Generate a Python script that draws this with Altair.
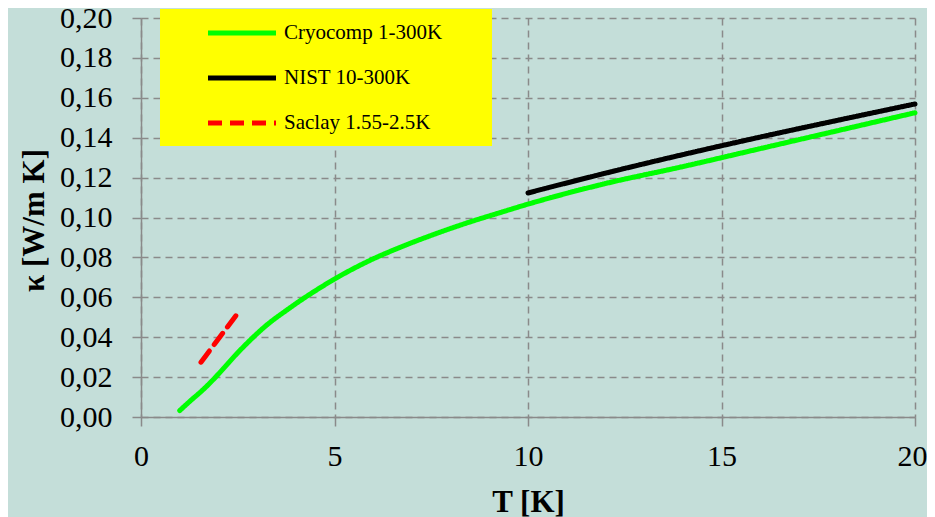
import altair as alt
import pandas as pd

# ---- data ----
cryo_T = [1.0, 1.27, 1.61, 1.87, 2.13, 2.47, 2.82, 3.25, 3.76, 4.19, 4.58, 4.97, 5.83,
          6.69, 7.55, 8.41, 9.27, 10.0, 12.0, 14.0, 16.0, 18.0, 20.0]
cryo_k = [0.0032, 0.008, 0.0138, 0.0188, 0.0243, 0.0316, 0.0385, 0.0461, 0.0535, 0.0593,
          0.0642, 0.0688, 0.0777, 0.085, 0.0914, 0.0972, 0.1024, 0.1067, 0.117, 0.1255,
          0.1345, 0.1435, 0.1525]

nist_T = [10.0, 12.0, 14.0, 16.0, 18.0, 20.0]
nist_k = [0.1123, 0.1222, 0.1315, 0.1403, 0.1487, 0.1569]

saclay_T = [1.55, 2.5]
saclay_k = [0.0275, 0.052]

series_names = ["Cryocomp 1-300K", "NIST 10-300K", "Saclay 1.55-2.5K"]
series_colors = ["#00FF00", "#000000", "#FF0000"]
series_dash = [[1, 0], [1, 0], [14, 8]]

x_ticks = [0, 5, 10, 15, 20]
y_ticks = [0.0, 0.02, 0.04, 0.06, 0.08, 0.10, 0.12, 0.14, 0.16, 0.18, 0.20]

rows = []
for name, ts, ks in zip(series_names, [cryo_T, nist_T, saclay_T], [cryo_k, nist_k, saclay_k]):
    for i, (t, k) in enumerate(zip(ts, ks)):
        rows.append({"series": name, "T": t, "k": k, "order": i})
df = pd.DataFrame(rows)

W, H = 774, 399
BG = "#C4DED9"
GRID = "#8A8A8A"
SERIF = "Liberation Serif"

legend = alt.Legend(
    title=None,
    orient="none",
    legendX=19,
    legendY=-9,
    fillColor="#FFFF00",
    padding=13,
    symbolType="M-4,0H4",
    symbolSize=289,
    symbolStrokeWidth=5,
    symbolOffset=58,
    labelFont=SERIF,
    labelFontSize=21,
    labelColor="black",
    labelOffset=31,
    labelLimit=400,
    labelExpr="datum.label + '\u00a0\u00a0\u00a0\u00a0\u00a0\u00a0\u00a0\u200b'",
    rowPadding=24,
)

chart = alt.Chart(df).mark_line(strokeWidth=5, strokeCap="round", strokeJoin="round",
                                interpolate="monotone").encode(
    x=alt.X("T:Q", scale=alt.Scale(domain=[0, 20], nice=False, zero=False),
            axis=alt.Axis(values=x_ticks, title="T [K]", format="d",
                          labelFlush=False,
                          labelOffset={"condition": {"test": "datum.value == 20", "value": -3},
                                       "value": 0},
                          labelBaseline="alphabetic", labelPadding=39,
                          titleBaseline="alphabetic", titleX=W / 2, titleY=94,
                          titleAngle=0)),
    y=alt.Y("k:Q", scale=alt.Scale(domain=[0, 0.2], nice=False),
            axis=alt.Axis(values=y_ticks, title="κ [W/m K]",
                          labelExpr="replace(format(datum.value, '.2f'), '.', ',')",
                          labelFlush=False,
                          labelPadding=20,
                          titleAngle=270, titleBaseline="alphabetic",
                          titleAlign="center", titleX=-98, titleY=202)),
    color=alt.Color("series:N", scale=alt.Scale(domain=series_names, range=series_colors),
                    legend=legend),
    strokeDash=alt.StrokeDash("series:N", scale=alt.Scale(domain=series_names, range=series_dash),
                              legend=legend),
    order="order:Q",
).properties(
    width=W,
    height=H,
    autosize=alt.AutoSizeParams(type="none"),
    padding={"left": 133, "top": 10, "right": 12, "bottom": 100},
    background=BG,
).configure_view(
    strokeOpacity=0,
).configure_axis(
    domainColor=GRID,
    domainWidth=1.5,
    tickColor=GRID,
    tickWidth=1.5,
    tickSize=9,
    grid=True,
    gridColor=GRID,
    gridDash=[7, 5],
    gridWidth=1.5,
    labelFont=SERIF,
    labelFontSize=30,
    labelColor="black",
    titleFont=SERIF,
    titleFontSize=31,
    titleFontWeight="bold",
    titleColor="black",
)

chart.save("out.html", embed_options={"renderer": "svg", "actions": False})
